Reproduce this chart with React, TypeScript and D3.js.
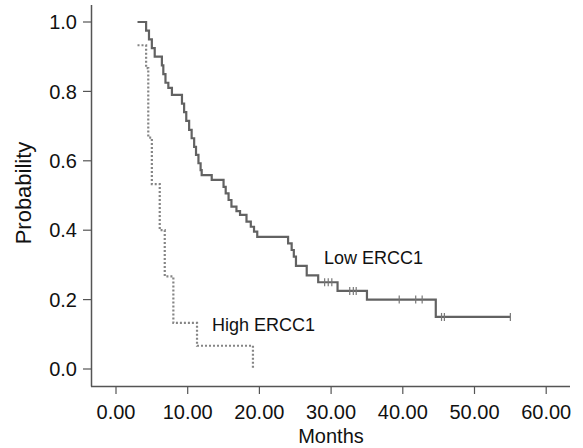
import React, { useRef, useEffect } from "react";
import * as d3 from "d3";

// step points: [months, probability]
const lowTimes = [3.0, 4.2, 4.6, 5.0, 5.4, 6.4, 6.6, 6.9, 7.3, 7.8, 9.2, 9.5, 9.8, 10.2, 10.55, 10.9, 11.16, 11.5, 11.8, 11.95, 13.35, 15.0, 15.3, 15.7, 16.1, 16.8, 17.3, 18.2, 18.8, 19.25, 19.7, 24.0, 24.5, 24.8, 25.1, 26.6, 28.2, 30.9, 35.0, 44.6, 55.0];
const lowProb = [1.0, 0.975, 0.95, 0.925, 0.9, 0.875, 0.85, 0.825, 0.81, 0.79, 0.765, 0.74, 0.715, 0.689, 0.665, 0.64, 0.617, 0.593, 0.573, 0.559, 0.545, 0.525, 0.506, 0.487, 0.468, 0.455, 0.444, 0.425, 0.41, 0.396, 0.381, 0.362, 0.343, 0.324, 0.297, 0.27, 0.25, 0.225, 0.2, 0.15, 0.15];
const lowCensorTimes = [29.1, 29.6, 30.1, 32.6, 33.1, 33.5, 39.5, 41.8, 42.7, 45.4, 45.8, 55.0];

const highTimes = [3.0, 4.2, 4.5, 5.0, 6.1, 6.8, 8.0, 11.3, 19.1];
const highProb = [0.933, 0.867, 0.667, 0.533, 0.4, 0.267, 0.133, 0.067, 0.0];

const xTicks = [0, 10, 20, 30, 40, 50, 60];
const yTicks = [0, 0.2, 0.4, 0.6, 0.8, 1.0];

const W = 583, H = 448;
const font = "'Liberation Sans', Arial, Helvetica, sans-serif";

export default function App() {
  const svgRef = useRef<SVGSVGElement>(null);

  useEffect(() => {
    const svg = d3.select(svgRef.current);
    svg.selectAll("*").remove();

    const x = d3.scaleLinear().domain([0, 60]).range([116, 546.2]);
    const y = d3.scaleLinear().domain([0, 1]).range([369, 22]);
    const axisColor = "#555";

    // axes frame
    svg.append("line").attr("x1", 91.5).attr("x2", 91.5).attr("y1", 5).attr("y2", 386.5)
      .attr("stroke", axisColor).attr("stroke-width", 1.5);
    svg.append("line").attr("x1", 91).attr("x2", 570).attr("y1", 386.5).attr("y2", 386.5)
      .attr("stroke", axisColor).attr("stroke-width", 1.5);

    const yg = svg.append("g");
    yTicks.forEach(t => {
      yg.append("line").attr("x1", 83).attr("x2", 91).attr("y1", y(t)).attr("y2", y(t))
        .attr("stroke", axisColor).attr("stroke-width", 1.2);
      yg.append("text").attr("x", 77).attr("y", y(t)).attr("dy", "0.36em")
        .attr("text-anchor", "end").attr("font-family", font).attr("font-size", 20)
        .attr("fill", "#111").text(t.toFixed(1));
    });

    const xg = svg.append("g");
    xTicks.forEach(t => {
      xg.append("line").attr("x1", x(t)).attr("x2", x(t)).attr("y1", 386.5).attr("y2", 394)
        .attr("stroke", axisColor).attr("stroke-width", 1.2);
      xg.append("text").attr("x", x(t)).attr("y", 418.5)
        .attr("text-anchor", "middle").attr("font-family", font).attr("font-size", 20)
        .attr("fill", "#111").text(t.toFixed(2));
    });

    svg.append("text").attr("x", 331).attr("y", 443).attr("text-anchor", "middle")
      .attr("font-family", font).attr("font-size", 20).attr("fill", "#111").text("Months");
    svg.append("text").attr("transform", "translate(31,193) rotate(-90)").attr("text-anchor", "middle")
      .attr("font-family", font).attr("font-size", 22).attr("fill", "#111").text("Probability");

    const line = d3.line<number>()
      .x(i => x(i[0]))
      .y(i => y(i[1]))
      .curve(d3.curveStepAfter);

    const lowPts = lowTimes.map((t, i) => [t, lowProb[i]]);
    const highPts = highTimes.map((t, i) => [t, highProb[i]]);

    svg.append("path").attr("d", (line as any)(highPts)).attr("fill", "none")
      .attr("stroke", "#858585").attr("stroke-width", 2.2).attr("stroke-dasharray", "2,2");

    svg.append("path").attr("d", (line as any)(lowPts)).attr("fill", "none")
      .attr("stroke", "#626262").attr("stroke-width", 2.2);

    // censor marks
    const stepY = (t: number) => {
      let p = lowProb[0];
      lowTimes.forEach((tt, i) => { if (tt <= t) p = lowProb[i]; });
      return p;
    };
    lowCensorTimes.forEach(t => {
      svg.append("line").attr("x1", x(t)).attr("x2", x(t))
        .attr("y1", y(stepY(t)) - 4).attr("y2", y(stepY(t)) + 4)
        .attr("stroke", "#777").attr("stroke-width", 1.2);
    });

    svg.append("text").attr("x", 324).attr("y", 263.5).attr("font-family", font)
      .attr("font-size", 18).attr("fill", "#111").text("Low ERCC1");
    svg.append("text").attr("x", 212).attr("y", 330.5).attr("font-family", font)
      .attr("font-size", 18).attr("fill", "#111").text("High ERCC1");
  }, []);

  return (
    <svg ref={svgRef} width={W} height={H}
      style={{ position: "absolute", left: 0, top: 0, background: "#fff" }} />
  );
}
